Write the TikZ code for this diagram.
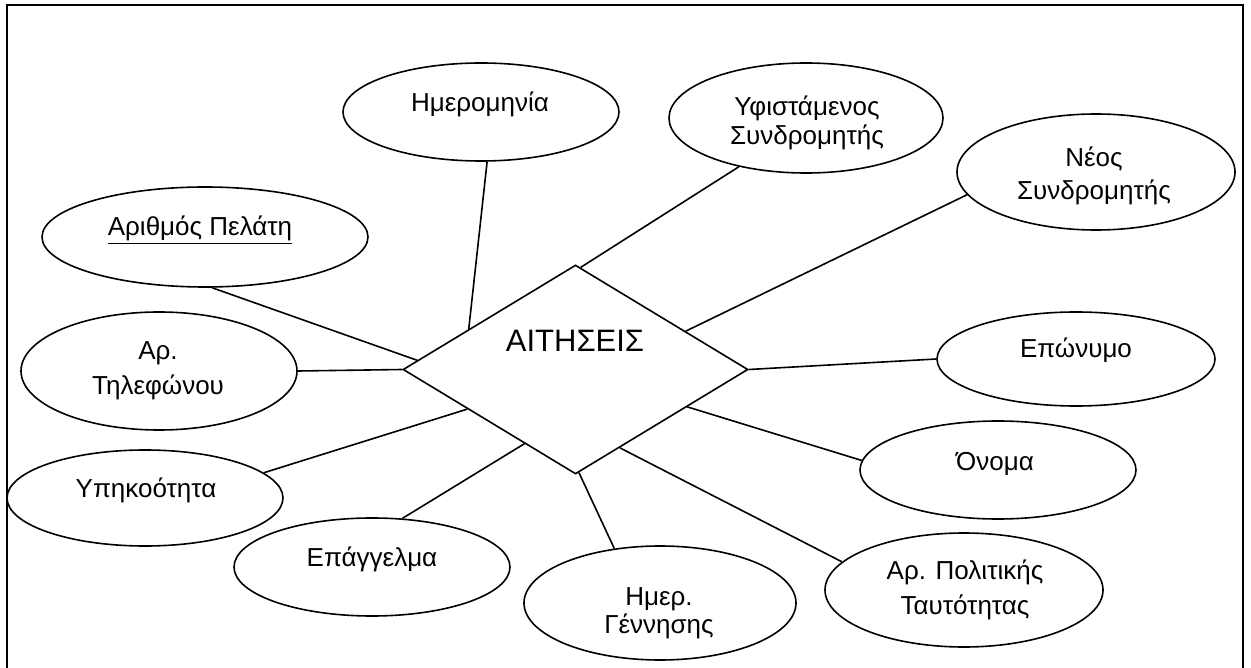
\documentclass[tikz,border=0pt]{standalone}
\usepackage{fontspec}
\setmainfont{Liberation Sans}
\usetikzlibrary{shapes.geometric,calc}
\begin{document}
\begin{tikzpicture}[x=1pt,y=-1pt,
  attr/.style={draw, ellipse, line width=1.6pt, inner sep=0pt},
  lbl/.style={font=\fontsize{26}{30}\selectfont, inner sep=0pt, anchor=base},
  link/.style={line width=1.6pt},
  frame/.style={line width=1.8pt}]
\useasboundingbox (0,0) rectangle (1251,668);
% frame (open at the bottom)
\coordinate (fbl) at (7,670);
\coordinate (ftl) at (7,5);
\coordinate (ftr) at (1243,5);
\coordinate (fbr) at (1243,670);
\draw[frame] (fbl) -- (ftl) -- (ftr) -- (fbr);

% entity
\node[draw, diamond, line width=1.6pt, inner sep=0pt, minimum width=345pt, minimum height=209pt] (d) at (575.5,369.5) {};
\node[font=\fontsize{31}{36}\selectfont, inner sep=0pt, anchor=base] (dt) at (575,352) {ΑΙΤΗΣΕΙΣ};

% attributes
\node[attr, minimum width=276pt, minimum height=98pt] (e1) at (481,112) {};
\node[lbl] (t1) at (480,112) {Ημερομηνία};

\node[attr, minimum width=274pt, minimum height=110pt] (e2) at (806,118) {};
\node[lbl] (t2a) at (807,116) {Υφιστάμενος};
\node[lbl] (t2b) at (807,145) {Συνδρομητής};

\node[attr, minimum width=278pt, minimum height=116pt] (e3) at (1096,172) {};
\node[lbl] (t3a) at (1094,167) {Νέος};
\node[lbl] (t3b) at (1094,200) {Συνδρομητής};

\node[attr, minimum width=326pt, minimum height=100pt] (e4) at (205,237) {};
\node[lbl] (t4) at (200,236) {\underline{Αριθμός Πελάτη}};

\node[attr, minimum width=276pt, minimum height=118pt] (e5) at (159,371) {};
\node[lbl] (t5a) at (158,360) {Αρ.};
\node[lbl] (t5b) at (158,395) {Τηλεφώνου};

\node[attr, minimum width=276pt, minimum height=96pt] (e6) at (145,498) {};
\node[lbl] (t6) at (146,497) {Υπηκοότητα};

\node[attr, minimum width=276pt, minimum height=98pt] (e7) at (372,567) {};
\node[lbl] (t7) at (372,566) {Επάγγελμα};

\node[attr, minimum width=272pt, minimum height=114pt] (e8) at (660,603) {};
\node[lbl] (t8a) at (659,605) {Ημερ.};
\node[lbl] (t8b) at (659,633) {Γέννησης};

\node[attr, minimum width=278pt, minimum height=114pt] (e9) at (964,590) {};
\node[lbl] (t9a) at (965,579) {Αρ. Πολιτικής};
\node[lbl] (t9b) at (965,614) {Ταυτότητας};

\node[attr, minimum width=276pt, minimum height=98pt] (e10) at (998,470) {};
\node[lbl] (t10) at (995,470) {Όνομα};

\node[attr, minimum width=278pt, minimum height=94pt] (e11) at (1076,359) {};
\node[lbl] (t11) at (1076,358) {Επώνυμο};

% connectors
\draw[link] (e1.-83) -- ($(d.west)!0.384!(d.north)$);
\draw[link] (e2.216) -- ($(d.north)!0.03!(d.east)$);
\draw[link] (e3.190) -- ($(d.north)!0.636!(d.east)$);
\draw[link] (e4.-82) -- ($(d.west)!0.087!(d.north)$);
\draw[link] (e5.east) -- (d.west);
\draw[link] (e6.12) -- ($(d.west)!0.376!(d.south)$);
\draw[link] (e7.58) -- ($(d.west)!0.705!(d.south)$);
\draw[link] (e8.130) -- ($(d.south)!0.02!(d.east)$);
\draw[link] (e9.167) -- ($(d.south)!0.256!(d.east)$);
\draw[link] (e10.176) -- ($(d.south)!0.645!(d.east)$);
\draw[link] (e11.west) -- (d.east);
\end{tikzpicture}
\end{document}
